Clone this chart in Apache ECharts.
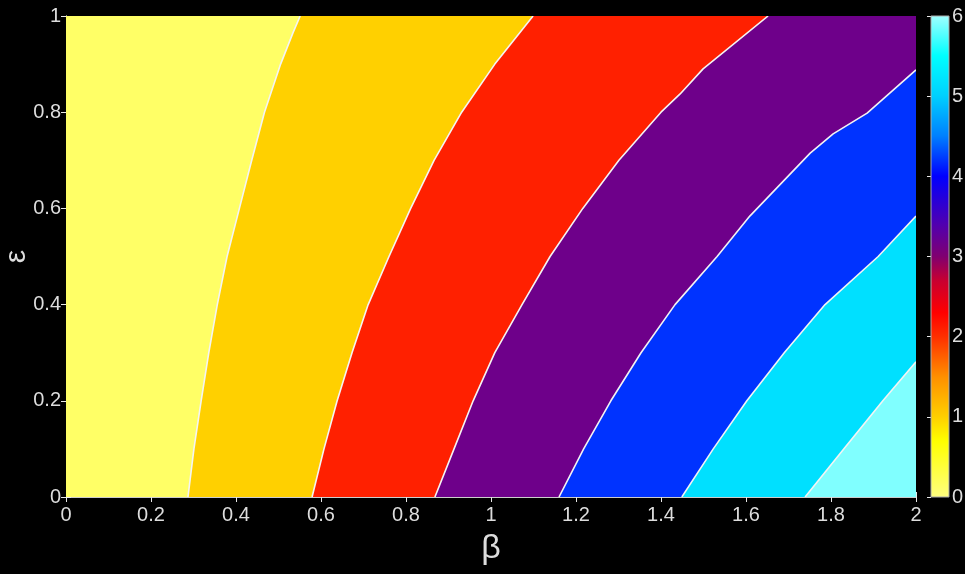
<!DOCTYPE html>
<html>
<head>
  <meta charset="UTF-8" />
  <title>contour</title>
  <script src="https://cdn.jsdelivr.net/npm/echarts@6/dist/echarts.min.js"></script>
  <style>
    html, body { margin: 0; padding: 0; background: #000; }
    #chart { width: 965px; height: 574px; }
  </style>
</head>
<body>
  <div id="chart"></div>
  <script>
    // contour lines, as [beta, epsilon] points
    const contour1 = [[0.287, 0], [0.301, 0.1], [0.318, 0.2], [0.336, 0.3], [0.356, 0.4], [0.379, 0.5],
                      [0.408, 0.6], [0.437, 0.7], [0.467, 0.8], [0.505, 0.9], [0.534, 0.965], [0.551, 1]];
    const contour2 = [[0.579, 0], [0.607, 0.1], [0.638, 0.2], [0.673, 0.3], [0.711, 0.4], [0.760, 0.5],
                      [0.811, 0.6], [0.866, 0.7], [0.931, 0.8], [1.009, 0.9], [1.099, 1]];
    const contour3 = [[0.868, 0], [0.913, 0.1], [0.958, 0.2], [1.009, 0.3], [1.073, 0.4], [1.139, 0.5],
                      [1.216, 0.6], [1.301, 0.7], [1.400, 0.8], [1.445, 0.838], [1.499, 0.89], [1.652, 1]];
    const contour4 = [[1.160, 0], [1.218, 0.1], [1.282, 0.2], [1.353, 0.3], [1.433, 0.4], [1.532, 0.5],
                      [1.609, 0.584], [1.751, 0.715], [1.805, 0.755], [1.885, 0.798], [2, 0.888]];
    const contour5 = [[1.449, 0], [1.523, 0.1], [1.602, 0.2], [1.690, 0.3], [1.786, 0.4], [1.911, 0.5], [2, 0.584]];
    const contour6 = [[1.739, 0], [1.830, 0.1], [1.922, 0.2], [2, 0.281]];
    const contours = [contour1, contour2, contour3, contour4, contour5, contour6];

    const levels = [0, 1, 2, 3, 4, 5, 6];
    const bandColors = ['#ffff66', '#ffd000', '#ff2000', '#6e008a', '#0033ff', '#00e0ff', '#80ffff'];

    // colour bar stops
    const cbValues = [0, 0.7, 1, 1.5, 2, 2.3, 2.7, 3, 3.4, 4, 4.5, 5, 5.5, 6];
    const cbColors = ['#ffff80', '#ffff00', '#ffd000', '#ff9000', '#ff3000', '#ff0000', '#c80030',
                      '#800070', '#5000b0', '#0000ff', '#0080ff', '#00d0ff', '#00ffff', '#a0ffff'];

    const textColor = '#dddddd';
    const font = 'Liberation Sans';

    const chart = echarts.init(document.getElementById('chart'));

    function renderBand(params, api) {
      const k = api.value(0);
      if (k === 0) {
        const a = api.coord([0, 1]);
        const b = api.coord([2, 0]);
        return { type: 'rect', shape: { x: a[0], y: a[1], width: b[0] - a[0], height: b[1] - a[1] },
                 style: { fill: bandColors[0] } };
      }
      const line = contours[k - 1];
      const poly = line.concat([[2, line[line.length - 1][1]], [2, 0]]);
      return {
        type: 'group',
        children: [
          { type: 'polygon', shape: { points: poly.map(p => api.coord(p)) }, style: { fill: bandColors[k] } },
          { type: 'polyline', shape: { points: line.map(p => api.coord(p)) },
            style: { stroke: '#f4f4f4', lineWidth: 1.6, fill: null, lineJoin: 'round' } }
        ]
      };
    }

    function renderBar(params, api) {
      const a = api.coord([0, 6]);
      const b = api.coord([1, 0]);
      const stops = cbValues.map((v, i) => ({ offset: v / 6, color: cbColors[i] }));
      return { type: 'rect', shape: { x: a[0], y: a[1], width: b[0] - a[0], height: b[1] - a[1] },
               style: { fill: new echarts.graphic.LinearGradient(0, 1, 0, 0, stops), stroke: '#aaaaaa', lineWidth: 1 } };
    }

    const tickStyle = { show: true, inside: true, length: 5, lineStyle: { color: '#e8e8e8', width: 1 } };
    const axisLine = { show: true, lineStyle: { color: '#cccccc', width: 1 } };
    const labelStyle = { color: textColor, fontSize: 20, fontFamily: font };

    chart.setOption({
      backgroundColor: '#000',
      animation: false,
      grid: [
        { left: 66, top: 16, width: 850, height: 481, outerBoundsMode: 'none', containLabel: false },
        { left: 931, top: 16, width: 18, height: 481, outerBoundsMode: 'none', containLabel: false }
      ],
      xAxis: [
        { type: 'value', gridIndex: 0, min: 0, max: 2, interval: 0.2, position: 'bottom',
          name: 'β', nameLocation: 'middle', nameGap: 35, nameMoveOverlap: false,
          nameTextStyle: { color: textColor, fontSize: 34, fontFamily: font },
          axisLine: axisLine, axisTick: tickStyle, splitLine: { show: false },
          axisLabel: Object.assign({ margin: 8 }, labelStyle) },
        { type: 'value', gridIndex: 0, min: 0, max: 2, interval: 0.2, position: 'top',
          axisLine: axisLine, axisTick: tickStyle, splitLine: { show: false }, axisLabel: { show: false } },
        { type: 'value', gridIndex: 1, min: 0, max: 1, show: false }
      ],
      yAxis: [
        { type: 'value', gridIndex: 0, min: 0, max: 1, interval: 0.2, position: 'left',
          name: 'ε', nameLocation: 'middle', nameGap: 34, nameMoveOverlap: false,
          nameTextStyle: { color: textColor, fontSize: 30, fontFamily: font },
          axisLine: axisLine, axisTick: tickStyle, splitLine: { show: false },
          axisLabel: Object.assign({ margin: 5 }, labelStyle) },
        { type: 'value', gridIndex: 0, min: 0, max: 1, interval: 0.2, position: 'right',
          axisLine: axisLine, axisTick: tickStyle, splitLine: { show: false }, axisLabel: { show: false } },
        { type: 'value', gridIndex: 1, min: 0, max: 6, interval: 1, position: 'right',
          axisLine: { show: false },
          axisTick: { show: true, inside: true, length: 4, lineStyle: { color: '#e8e8e8' } },
          splitLine: { show: false },
          axisLabel: Object.assign({ margin: 3 }, labelStyle) }
      ],
      series: [
        { type: 'custom', xAxisIndex: 0, yAxisIndex: 0, renderItem: renderBand,
          data: levels.map(k => [k]), silent: true, clip: true },
        { type: 'custom', xAxisIndex: 2, yAxisIndex: 2, renderItem: renderBar,
          data: [[0]], silent: true, z: 1 }
      ]
    });
  </script>
</body>
</html>
